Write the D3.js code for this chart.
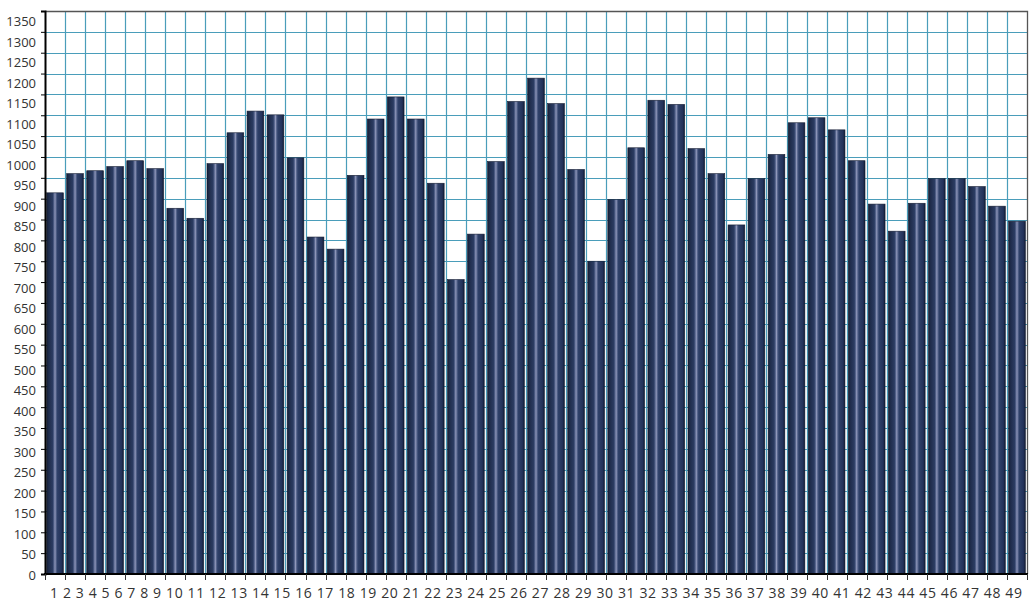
<!DOCTYPE html>
<html>
<head>
<meta charset="utf-8">
<script src="https://cdn.jsdelivr.net/npm/d3@7"></script>
<style>
  html, body { margin: 0; padding: 0; background: #ffffff; }
  svg { display: block; }
</style>
</head>
<body>
<svg id="chart" width="1034" height="613"></svg>
<script>
// ---- data ----
const categories = d3.range(1, 50).map(String);
const values = [
  914, 960, 967, 977, 991, 972, 877, 853, 984, 1058,
  1110, 1101, 998, 808, 779, 956, 1091, 1144, 1091, 937,
  706, 815, 989, 1133, 1189, 1128, 970, 750, 898, 1022,
  1136, 1126, 1020, 960, 837, 948, 1006, 1082, 1094, 1065,
  991, 887, 822, 889, 948, 948, 929, 882, 846
];
const yTicks = d3.range(0, 1351, 50);

(function () {
// ---- layout ----
const pLeft = 45, pRight = 1027, pTop = 11, pBottom = 574;
const svg = d3.select("#chart");

const x = d3.scaleBand().domain(categories).range([pLeft, pRight])
  .paddingInner(0.167).paddingOuter(0.083);
const xEdge = d3.scaleLinear().domain([0, categories.length]).range([pLeft, pRight]);
const y = d3.scaleLinear().domain([0, 1350]).range([pBottom, pTop]);
// tick labels in the reference are spaced slightly tighter than the grid
const yLabel = d3.scaleLinear().domain([0, 1350]).range([575, 21.7]);

// gradient for cylinder-like bars
const defs = svg.append("defs");
const grad = defs.append("linearGradient").attr("id", "barGrad")
  .attr("x1", "0%").attr("x2", "100%").attr("y1", "0%").attr("y2", "0%");
[
  [0, "#151e36"], [0.12, "#1f2c4b"], [0.36, "#2b3c62"], [0.44, "#5a6890"],
  [0.5, "#9098ba"], [0.56, "#5a6890"], [0.64, "#2f4169"], [0.88, "#23325a"], [1, "#141c34"]
].forEach(([o, c]) => grad.append("stop").attr("offset", o).attr("stop-color", c));

// grid lines
const grid = svg.append("g").attr("stroke", "#4a9dba").attr("stroke-width", 1.2);
grid.selectAll("line.h").data(yTicks.filter(v => v > 0 && v < 1350)).join("line")
  .attr("class", "h")
  .attr("x1", pLeft).attr("x2", pRight)
  .attr("y1", d => Math.round(y(d)) + 0.5).attr("y2", d => Math.round(y(d)) + 0.5);
grid.selectAll("line.v").data(d3.range(1, categories.length)).join("line")
  .attr("class", "v")
  .attr("y1", pTop).attr("y2", pBottom)
  .attr("x1", d => Math.round(xEdge(d)) + 0.5).attr("x2", d => Math.round(xEdge(d)) + 0.5);

// top / right border
svg.append("path")
  .attr("d", `M${pLeft},${pTop + 0.5}H${pRight + 0.5}V${pBottom}`)
  .attr("fill", "none").attr("stroke", "#555").attr("stroke-width", 1.3);

// bars
svg.append("g").selectAll("rect").data(values).join("rect")
  .attr("x", (d, i) => x(categories[i]))
  .attr("width", x.bandwidth())
  .attr("y", d => y(d))
  .attr("height", d => y(0) - y(d))
  .attr("fill", "url(#barGrad)")
  .attr("stroke", "#121a30").attr("stroke-width", 0.6);

// left axis
const yAxis = d3.axisLeft(y).tickValues(yTicks).tickSize(4).tickFormat("");
const ya = svg.append("g").attr("transform", `translate(${pLeft},0)`).call(yAxis);
ya.select(".domain").attr("stroke", "#000").attr("stroke-width", 2);
ya.selectAll(".tick line").attr("stroke", "#000");

// y tick labels (separate label scale)
const yLabAxis = d3.axisLeft(yLabel).tickValues(yTicks).tickSize(0).tickPadding(0)
  .tickFormat(d3.format("d"));
const yl = svg.append("g").attr("transform", `translate(36,0)`).call(yLabAxis);
yl.select(".domain").remove();
yl.selectAll(".tick text")
  .attr("font-family", "'Open Sans', 'DejaVu Sans', sans-serif")
  .attr("font-size", 13).attr("fill", "#333");

// bottom axis
const xa = svg.append("g").attr("transform", `translate(0,${pBottom})`);
xa.append("line").attr("x1", pLeft - 1).attr("x2", pRight + 1).attr("y1", 0).attr("y2", 0)
  .attr("stroke", "#000").attr("stroke-width", 2);
xa.selectAll("line.t").data(d3.range(0, categories.length + 1)).join("line")
  .attr("class", "t")
  .attr("x1", d => Math.round(xEdge(d)) + 0.5).attr("x2", d => Math.round(xEdge(d)) + 0.5)
  .attr("y1", 0).attr("y2", 6).attr("stroke", "#333").attr("stroke-width", 1);

// x labels: flow as one line, as in the reference
const xt = svg.append("text")
  .attr("x", 50).attr("y", 598)
  .attr("font-family", "'Open Sans', 'DejaVu Sans', sans-serif")
  .attr("font-size", 14).attr("fill", "#333")
  .attr("textLength", 972).attr("lengthAdjust", "spacing");
xt.selectAll("tspan").data(categories).join("tspan")
  .text((d, i) => (i < categories.length - 1 ? d + " " : d));
})();
</script>
</body>
</html>
